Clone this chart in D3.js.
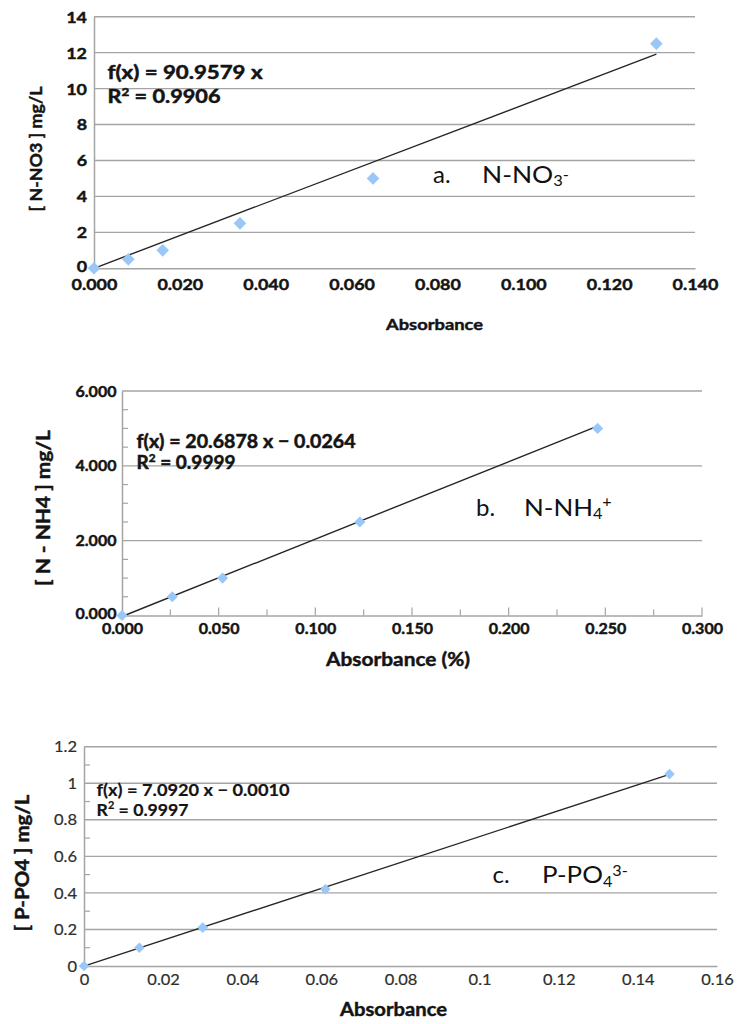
<!DOCTYPE html>
<html>
<head>
<meta charset="utf-8">
<script src="https://cdn.jsdelivr.net/npm/d3@7"></script>
<style>
  html, body { margin: 0; padding: 0; background: #ffffff; }
  svg { display: block; }
</style>
</head>
<body>
<svg id="chart" width="739" height="1024"></svg>
<script>
// ---- Calibration standards ----
const absorbanceNO3 = [0, 0.008, 0.016, 0.034, 0.065, 0.131];
const concNO3       = [0, 0.5, 1, 2.5, 5, 12.5];

const absorbanceNH4 = [0, 0.026, 0.052, 0.123, 0.246];
const concNH4       = [0, 0.5, 1, 2.5, 5];

const absorbancePO4 = [0, 0.014, 0.030, 0.061, 0.148];
const concPO4       = [0, 0.1, 0.21, 0.42, 1.05];

// ---- Linear regression results ----
const slopes     = [90.9579, 20.6878, 7.0920];
const intercepts = [0, -0.0264, -0.0010];
const rSquared   = [0.9906, 0.9999, 0.9997];

// ---- Axis ticks ----
const xTicksNO3 = [0, 0.02, 0.04, 0.06, 0.08, 0.10, 0.12, 0.14];
const yTicksNO3 = [0, 2, 4, 6, 8, 10, 12, 14];
const xTicksNH4 = [0, 0.05, 0.10, 0.15, 0.20, 0.25, 0.30];
const yTicksNH4 = [0, 2, 4, 6];
const yMinorNH4 = [0.5, 1, 1.5, 2.5, 3, 3.5, 4.5, 5, 5.5];
const xMinorNH4 = [0.025, 0.075, 0.125, 0.175, 0.225, 0.275];
const xTicksPO4 = [0, 0.02, 0.04, 0.06, 0.08, 0.10, 0.12, 0.14, 0.16];
const yTicksPO4 = [0, 0.2, 0.4, 0.6, 0.8, 1.0, 1.2];
const yMinorPO4 = [0.1, 0.3, 0.5, 0.7, 0.9, 1.1];

// ---- Text ----
const xTitles = ["Absorbance", "Absorbance (%)", "Absorbance"];
const yTitles = ["[ N-NO3 ]  mg/L", "[ N - NH4 ]  mg/L", "[ P-PO4 ]  mg/L"];
const tagLetters = ["a.", "b.", "c."];
const tagBases   = ["N-NO", "N-NH", "P-PO"];
const tagSubs    = ["3", "4", "4"];
const tagSups    = ["-", "+", "3-"];

const FONT = "Lato, 'Open Sans', 'Liberation Sans', sans-serif";
const GRID = "#a4a4a4";
const MARK = "#99c8f8";
const INK = "#141414";

const svg = d3.select("#chart");

// scale a text element horizontally around its own anchor x
function widen(sel, k) {
  sel.each(function () {
    const t = d3.select(this);
    const x = +t.attr("x") || 0;
    t.attr("transform", `translate(${x},0) scale(${k},1) translate(${-x},0)`);
  });
}

// thicken glyphs slightly with a thin outline of the same colour
function heavy(sel, w, color) {
  sel.attr("stroke", color).attr("stroke-width", w)
     .attr("stroke-linejoin", "round").attr("paint-order", "stroke");
}

function eqText(i) {
  let s = `f(x) = ${slopes[i].toFixed(4)} x`;
  if (intercepts[i] !== 0) {
    s += ` ${intercepts[i] < 0 ? "\u2212" : "+"} ${Math.abs(intercepts[i]).toFixed(4)}`;
  }
  return s;
}

const panels = [
  {
    xs: absorbanceNO3, ys: concNO3, xTicks: xTicksNO3, yTicks: yTicksNO3,
    xDomain: [0, 0.14], yDomain: [0, 14],
    left: 94, right: 695, top: 16.7, bottom: 268.3,
    xFmt: d3.format(".3f"), yFmt: d3.format("d"),
    tickSize: 16, tickWeight: 700, tickColor: INK, tickWiden: 1.12, tickStroke: 0.45,
    xLabelDy: 22, yLabelPad: 7, zeroLift: 2.5,
    markSize: 80,
    eq: { x: 107.5, y1: 79, y2: 103, w1: 155, w2: 113, size: 18, weight: 700, stroke: 0.5 },
    xTitle: { x: 434.5, y: 330, w: 97, size: 16 },
    yTitle: { x: 36, y: 149, w: 125, size: 17 },
    tag: { x: 433, baseX: 482, y: 183.3, subY: 186.5, supY: 180, size: 24, widen: 1.1 }
  },
  {
    xs: absorbanceNH4, ys: concNH4, xTicks: xTicksNH4, yTicks: yTicksNH4,
    xDomain: [0, 0.3], yDomain: [0, 6],
    left: 122, right: 702, top: 391, bottom: 615.5,
    xFmt: d3.format(".3f"), yFmt: d3.format(".3f"),
    tickSize: 15, tickWeight: 700, tickColor: INK, tickWiden: 1.07, tickStroke: 0.45,
    xLabelDy: 18.5, yLabelPad: 5.5, zeroLift: 2.5,
    markSize: 62,
    xMinor: xMinorNH4, yMinor: yMinorNH4, xMajorTicks: true,
    eq: { x: 136.5, y1: 448, y2: 469, w1: 219, w2: 99, size: 18, weight: 700, stroke: 0.5 },
    xTitle: { x: 398, y: 666, w: 144, size: 18 },
    yTitle: { x: 44, y: 508, w: 156, size: 18 },
    tag: { x: 476, baseX: 524, y: 515.7, subY: 519, supY: 507, size: 24, widen: 1.08 }
  },
  {
    xs: absorbancePO4, ys: concPO4, xTicks: xTicksPO4, yTicks: yTicksPO4,
    xDomain: [0, 0.16], yDomain: [0, 1.2],
    left: 84, right: 717, top: 746.7, bottom: 966,
    xFmt: v => String(+v.toFixed(2)), yFmt: v => String(+v.toFixed(1)),
    tickSize: 15, tickWeight: 400, tickColor: "#2e2e2e", tickWiden: 1.1, tickStroke: 0.2,
    xLabelDy: 19, yLabelPad: 7, zeroLift: 0,
    markSize: 56,
    yMinor: yMinorPO4,
    eq: { x: 96.6, y1: 796, y2: 816, w1: 193, w2: 92, size: 17, weight: 700, stroke: 0.2 },
    xTitle: { x: 393.5, y: 1016, w: 107, size: 19 },
    yTitle: { x: 23, y: 863, w: 137, size: 18 },
    tag: { x: 492.5, baseX: 542, y: 883.3, subY: 887, supY: 876, size: 24, widen: 1.08 }
  }
];

panels.forEach((p, i) => {
  const g = svg.append("g").attr("class", `panel-${i}`);
  const x = d3.scaleLinear().domain(p.xDomain).range([p.left, p.right]);
  const y = d3.scaleLinear().domain(p.yDomain).range([p.bottom, p.top]);

  // horizontal gridlines
  g.append("g").selectAll("line")
    .data(p.yTicks.filter(v => v !== 0))
    .join("line")
    .attr("x1", p.left).attr("x2", p.right)
    .attr("y1", d => y(d)).attr("y2", d => y(d))
    .attr("stroke", GRID).attr("stroke-width", 1.4);

  // minor ticks, drawn inward
  if (p.yMinor) {
    g.append("g").selectAll("line")
      .data(p.yMinor).join("line")
      .attr("x1", p.left).attr("x2", p.left + 6)
      .attr("y1", d => y(d)).attr("y2", d => y(d))
      .attr("stroke", GRID).attr("stroke-width", 1.2);
  }
  if (p.xMajorTicks) {
    g.append("g").selectAll("line")
      .data(p.xTicks.filter(v => v !== 0)).join("line")
      .attr("x1", d => x(d)).attr("x2", d => x(d))
      .attr("y1", p.bottom).attr("y2", p.bottom - 8)
      .attr("stroke", GRID).attr("stroke-width", 1.2);
  }
  if (p.xMinor) {
    g.append("g").selectAll("line")
      .data(p.xMinor).join("line")
      .attr("x1", d => x(d)).attr("x2", d => x(d))
      .attr("y1", p.bottom).attr("y2", p.bottom - 6)
      .attr("stroke", GRID).attr("stroke-width", 1.2);
  }

  // axes
  const xAxis = g.append("g")
    .attr("transform", `translate(0,${p.bottom})`)
    .call(d3.axisBottom(x).tickValues(p.xTicks).tickFormat(p.xFmt).tickSize(0).tickPadding(0));
  xAxis.select(".domain").attr("stroke", GRID).attr("stroke-width", 1.5);
  xAxis.selectAll("text")
    .attr("y", p.xLabelDy).attr("dy", 0)
    .attr("font-family", FONT).attr("font-size", p.tickSize)
    .attr("font-weight", p.tickWeight).attr("fill", p.tickColor)
    .call(heavy, p.tickStroke, p.tickColor)
    .call(widen, p.tickWiden);

  const yAxis = g.append("g")
    .attr("transform", `translate(${p.left},0)`)
    .call(d3.axisLeft(y).tickValues(p.yTicks).tickFormat(p.yFmt).tickSize(0).tickPadding(p.yLabelPad));
  yAxis.select(".domain").attr("stroke", GRID).attr("stroke-width", 1.5);
  yAxis.selectAll("text")
    .attr("dy", "0.34em")
    .attr("y", d => (d === 0 ? -p.zeroLift : 0))
    .attr("font-family", FONT).attr("font-size", p.tickSize)
    .attr("font-weight", p.tickWeight).attr("fill", p.tickColor)
    .call(heavy, p.tickStroke, p.tickColor)
    .call(widen, p.tickWiden);

  // regression line
  const xEnd = d3.max(p.xs);
  const fit = [0, xEnd].map(v => [v, slopes[i] * v + intercepts[i]]);
  g.append("path")
    .datum(fit)
    .attr("d", d3.line().x(d => x(d[0])).y(d => y(d[1])))
    .attr("fill", "none").attr("stroke", "#262626").attr("stroke-width", 1.4);

  // standards
  const diamond = d3.symbol(d3.symbolSquare, p.markSize);
  g.append("g").selectAll("path")
    .data(p.xs.map((v, k) => [v, p.ys[k]]))
    .join("path")
    .attr("d", diamond)
    .attr("transform", d => `translate(${x(d[0])},${y(d[1])}) rotate(45)`)
    .attr("fill", MARK);

  // regression equation
  g.append("text")
    .attr("x", p.eq.x).attr("y", p.eq.y1)
    .attr("font-family", FONT).attr("font-size", p.eq.size).attr("font-weight", p.eq.weight)
    .attr("fill", INK).call(heavy, p.eq.stroke, INK)
    .attr("textLength", p.eq.w1).attr("lengthAdjust", "spacingAndGlyphs")
    .text(eqText(i));
  const r2 = g.append("text")
    .attr("x", p.eq.x).attr("y", p.eq.y2)
    .attr("font-family", FONT).attr("font-size", p.eq.size).attr("font-weight", p.eq.weight)
    .attr("fill", INK).call(heavy, p.eq.stroke, INK)
    .attr("textLength", p.eq.w2).attr("lengthAdjust", "spacingAndGlyphs");
  r2.append("tspan").text("R");
  r2.append("tspan").attr("dy", -7).attr("font-size", p.eq.size * 0.62).text("2");
  r2.append("tspan").attr("dy", 7).text(` = ${rSquared[i].toFixed(4)}`);

  // axis titles
  g.append("text")
    .attr("x", p.xTitle.x).attr("y", p.xTitle.y)
    .attr("text-anchor", "middle")
    .attr("font-family", FONT).attr("font-size", p.xTitle.size).attr("font-weight", 700)
    .attr("fill", INK).call(heavy, 0.45, INK)
    .attr("textLength", p.xTitle.w).attr("lengthAdjust", "spacingAndGlyphs")
    .text(xTitles[i]);
  g.append("text")
    .attr("transform", `translate(${p.yTitle.x},${p.yTitle.y}) rotate(-90)`)
    .attr("text-anchor", "middle").attr("dy", "0.35em")
    .attr("font-family", FONT).attr("font-size", p.yTitle.size).attr("font-weight", 700)
    .attr("fill", INK).call(heavy, 0.45, INK)
    .attr("textLength", p.yTitle.w).attr("lengthAdjust", "spacingAndGlyphs")
    .text(yTitles[i]);

  // species tag: letter, then the ion formula with sub/superscripts
  g.append("text")
    .attr("x", p.tag.x).attr("y", p.tag.y)
    .attr("font-family", FONT).attr("font-size", p.tag.size).attr("fill", "#111")
    .text(tagLetters[i]);
  const ion = g.append("text")
    .attr("x", p.tag.baseX).attr("y", p.tag.y)
    .attr("font-family", FONT).attr("font-size", p.tag.size).attr("fill", "#111");
  ion.append("tspan").text(tagBases[i]);
  ion.append("tspan").attr("y", p.tag.subY).attr("font-size", 15).text(tagSubs[i]);
  ion.append("tspan").attr("y", p.tag.supY).attr("font-size", 15).text(tagSups[i]);
  ion.call(widen, p.tag.widen);
});
</script>
</body>
</html>
